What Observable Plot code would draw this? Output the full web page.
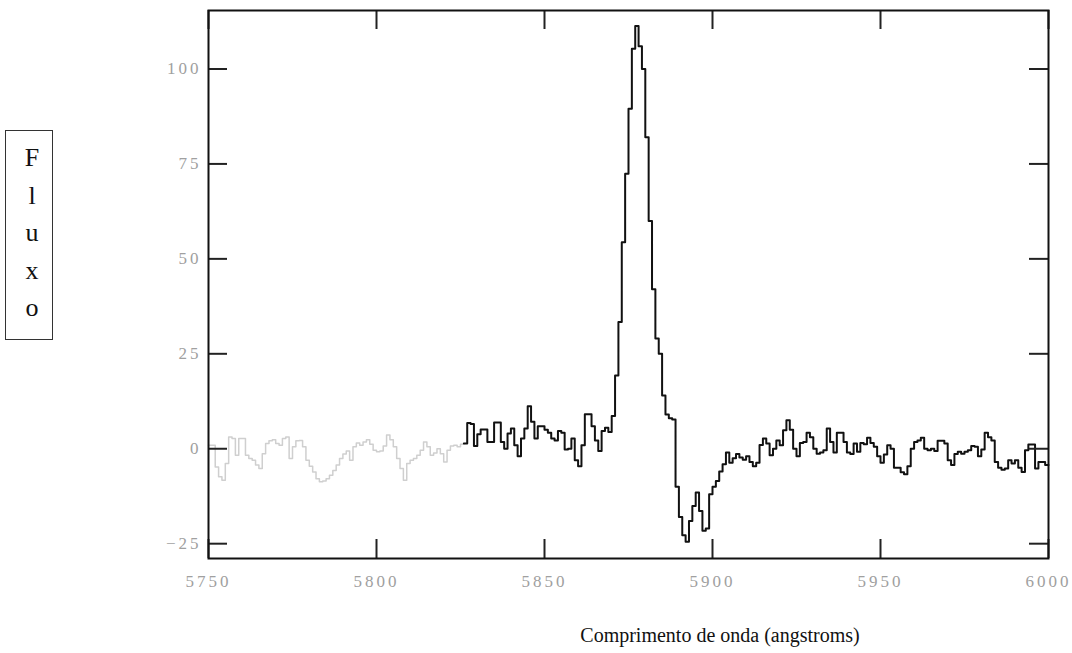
<!DOCTYPE html>
<html>
<head>
<meta charset="utf-8">
<script src="https://cdn.jsdelivr.net/npm/d3@7"></script>
<script src="https://cdn.jsdelivr.net/npm/@observablehq/plot@0.6"></script>
<style>
  html, body { margin: 0; padding: 0; background: #fff; }
  #wrap { position: relative; width: 1072px; height: 653px; overflow: hidden; }
  #chart { position: absolute; left: 0; top: 0; }
  #chart svg text { fill: #a0a0a0; letter-spacing: 3px; }
  #ylab {
    position: absolute; left: 5px; top: 130px; width: 48px; height: 210px;
    border: 1.5px solid #333; box-sizing: border-box;
    font-family: "Liberation Serif", "Times New Roman", serif; font-size: 26px;
    color: #111; text-align: center; padding-top: 8px;
  }
  #ylab div { line-height: 37.5px; height: 37.5px; padding-left: 6px; }
  #xlab {
    position: absolute; left: 470px; width: 500px; top: 620px; text-align: center;
    font-family: "Liberation Serif", "Times New Roman", serif; font-size: 20px; color: #111;
    line-height: 30px;
  }
</style>
</head>
<body>
<div id="wrap">
  <div id="chart"></div>
  <div id="ylab"></div>
  <div id="xlab"></div>
</div>
<script>
// ---- data ----
const xLabel = "Comprimento de onda (angstroms)";
const yLabel = "Fluxo";
const xTicks = [5750, 5800, 5850, 5900, 5950, 6000];
const yTicks = [-25, 0, 25, 50, 75, 100];
const startWavelength = 5750;   // Å, first bin
const binWidth = 1;             // Å per bin
const endWavelength = 6000;
// flux of the faint (grey) part, 5750–5826 Å
const fluxGrey = [
  0.9, 0.9, -4.8, -7.4, -8.3, -3.9, 3.1, 2.7, -1.7, 2.7,
  2.7, -1.7, -2.6, -3, -4.3, -5.2, -1.3, 1.4, 2.1, 2.4,
  1.4, 0.9, 2.7, 3.1, -2.6, 0.5, 2.1, 2.2, 0.5, -3,
  -4.6, -6.1, -7.9, -8.7, -8.5, -7.9, -7, -5.7, -4.3, -2.6,
  -1.4, -0.6, -3, 0.5, 1.5, 0.9, 1.8, 2.4, 1.2, -0.4,
  -0.8, -0.6, 0.7, 3.6, 2.4, 0.5, -2.6, -5.2, -8.3, -3.9,
  -3, -2.6, -1.7, -0.4, 1.8, 0.5, -1.7, -1.1, 0, -1.3,
  -3.5, -0.4, 0.7, 0.9, 0.5, 1.2
];
// flux of the dark part, 5826–6000 Å
const fluxBlack = [
  1.4, 6.8, 6.5, 0.7, 3.8, 5.1, 5.1, 1.8, 1.8, 6.9,
  6.9, 1.8, 0, 4, 5.3, 0.9, -2, 2.7, 5.3, 11.2,
  7.1, 2.7, 5.9, 5.9, 5, 4.2, 2.7, 2.2, 4.7, 4.2,
  -0.2, 0, 2.7, -3, -4.6, 0.9, 9.1, 9.1, 5.9, 2.2,
  -0.6, 4.7, 5.5, 4.4, 8.6, 19.3, 33.4, 54.4, 72.4, 89.5,
  105.3, 111.3, 106, 100, 82, 60, 42, 29, 25, 14,
  9, 8, 7.7, -10, -18, -22.8, -24.5, -19, -15.1, -11.5,
  -16.4, -21.6, -21, -12, -10, -8.5, -6, -4.1, -1, -3.7,
  -2.5, -1.4, -2.3, -2.9, -2, -3.5, -4.6, -3.7, 1, 2.7,
  1.4, -1.7, 0, 2.2, 0.9, 4.9, 7.5, 5, 0, -2,
  1.5, 1.8, 4.2, 3, 0, -1.3, -1, -0.4, 5.3, 1.8,
  -1, 4.2, 4.2, 1.8, -1, -1.4, 1.4, -0.8, 1.5, 1.2,
  2.9, 1.5, 0.5, -2, -3.7, -1.5, 0.9, 0, -5, -5,
  -6.2, -6.7, -4.6, 0, 1.8, 2.2, 2.9, 0, -0.4, 0,
  -0.6, 2.1, 2.1, 1.4, -3, -4.3, -1.4, -0.8, -1.3, -0.8,
  -0.4, 0.7, 0.5, -2, -0.2, 4.2, 3, 2.2, -3.5, -5,
  -5.5, -5.2, -3, -3.9, -3, -5, -6.1, -0.4, 1.1, 1.1,
  -5.2, -3.5, -3.5, -4.3
];

// ---- tables ----
const greyRows = fluxGrey.map((v, i) => ({x: startWavelength + i * binWidth, y: v}));
const blackStart = startWavelength + fluxGrey.length * binWidth;
greyRows.push({x: blackStart, y: fluxBlack[0]});
const blackRows = fluxBlack.map((v, i) => ({x: blackStart + i * binWidth, y: v}));
blackRows.push({x: endWavelength, y: fluxBlack[fluxBlack.length - 1]});

// ---- layout ----
const W = 1072, H = 600, mL = 208, mR = 24, mT = 10, mB = 42;
const innerW = W - mL - mR, innerH = H - mT - mB;
const tickLen = 19;
const fmt = d => d < 0 ? "\u2212" + (-d) : String(d);

const chart = Plot.plot({
  width: W, height: H,
  marginLeft: mL, marginRight: mR, marginTop: mT, marginBottom: mB,
  style: {fontFamily: "'Liberation Serif', serif", fontSize: "17px", background: "white", overflow: "visible"},
  x: {domain: [5750, 6000], ticks: xTicks, tickSize: 0, tickPadding: 16, tickFormat: fmt, label: null},
  y: {domain: [-28.9, 115.4], ticks: yTicks, tickSize: 0, tickPadding: 7, tickFormat: fmt, label: null},
  marks: [
    Plot.line(greyRows, {x: "x", y: "y", curve: "step-after", stroke: "#cfcfcf", strokeWidth: 1.5}),
    Plot.line(blackRows, {x: "x", y: "y", curve: "step-after", stroke: "#111", strokeWidth: 2}),
    Plot.tickX(xTicks, {x: d => d, insetTop: innerH - tickLen, stroke: "#222", strokeWidth: 2}),
    Plot.tickX(xTicks, {x: d => d, insetBottom: innerH - tickLen, stroke: "#222", strokeWidth: 2}),
    Plot.tickY(yTicks, {y: d => d, insetRight: innerW - tickLen, stroke: "#222", strokeWidth: 2}),
    Plot.tickY(yTicks, {y: d => d, insetLeft: innerW - tickLen, stroke: "#222", strokeWidth: 2}),
    Plot.frame({stroke: "#111", strokeWidth: 2})
  ]
});
document.getElementById("chart").appendChild(chart);

const yl = document.getElementById("ylab");
for (const ch of yLabel) { const d = document.createElement("div"); d.textContent = ch; yl.appendChild(d); }
document.getElementById("xlab").textContent = xLabel;
</script>
</body>
</html>
